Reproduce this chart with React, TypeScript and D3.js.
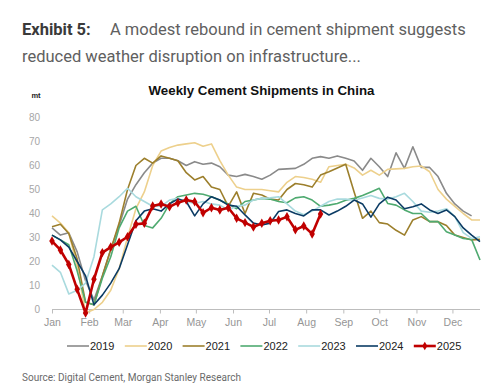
import { useEffect, useRef } from "react"
import * as d3 from "d3"

// weekly shipments, mt (week 0 = first week of Jan)
const s2019 = [34, 31, 32, 24, 12, 4, 14, 25, 35, 46, 52, 57, 61, 63, 63, 62, 60, 61.6, 60.5, 61, 59.5, 56, 55.4, 56.3, 55.4, 54.3, 56, 58.4, 58.6, 58.8, 60.5, 63, 63.7, 63, 64, 63, 61.9, 58, 63, 59.5, 55.4, 65.3, 58.8, 67.8, 59.2, 59.2, 55.4, 48.4, 44, 41, 39]
const s2020 = [39, 36, 32, 18, -1.5, 0, 3, 8, 17, 30, 42, 49, 60, 66, 67.5, 68.5, 69, 69.5, 68, 69, 62, 56, 51, 50, 50, 50, 49.5, 49, 53, 55.4, 55, 54.3, 53, 59.5, 60, 60.5, 59, 56, 58, 56, 58.4, 58.6, 58.8, 59.5, 59.8, 57.4, 50, 46, 43, 40, 37.3, 37.3]
const s2021 = [34.5, 35.5, 31.7, 21, 3, 2, 14, 25, 36, 50, 60, 63, 61, 64, 63, 62, 57, 54, 55.4, 51, 50, 43, 49, 40, 48.4, 47.7, 46, 45.6, 50, 52.5, 52, 51, 56, 57.4, 59, 60.5, 49, 38, 41, 36.2, 35.6, 33, 31, 37.3, 38.7, 36.6, 36.6, 35, 31, 30, 29, 29.2]
const s2022 = [31, 29, 27, 16, 3, 2, 13, 22, 34, 41, 43, 35, 34, 38, 44, 47, 47.7, 48.4, 48, 47, 45.5, 44, 42, 45, 45.6, 46.3, 46, 45, 44.5, 46.5, 47, 45.6, 43, 43.5, 44.2, 45.5, 46.3, 47.5, 49, 50.5, 44.2, 43.5, 41.5, 40, 40, 36.6, 36.6, 32.4, 31, 29.6, 29.2, 20.6]
const s2023 = [18.5, 15.5, 6.5, 8, 11, 22, 41.5, 44, 47, 50.5, 47, 45, 43, 43, 45.6, 46.3, 45, 44.2, 45, 44, 43.5, 41.5, 43, 43.5, 45.6, 46.3, 46.5, 47, 44, 41, 39.5, 41, 43, 45, 46, 46, 45.5, 46.5, 47.5, 46.3, 46, 47, 48.4, 45, 41, 40.5, 41, 42, 38.7, 32, 29.6, 30.3]
const s2024 = [31, 29, 26, 20, 14, 2, 6, 11, 17, 27, 37, 41, 42, 41, 44, 46, 45, 39, 44, 47, 45.6, 43.5, 43, 39.4, 36, 35.2, 36, 40.8, 41.5, 40, 39, 41.5, 41.5, 39.4, 41, 43, 45.6, 44, 38.5, 44, 46.8, 45.6, 42, 42.8, 44, 41.5, 40, 41.5, 38.7, 34, 31, 28.3]
const s2025 = [28.5, 24.8, 18.8, 8.4, -1.5, 12.6, 23.7, 26, 28, 30.3, 35.5, 35.9, 43.1, 44, 42.8, 44.5, 45.6, 44.9, 40.3, 42.4, 41.5, 42.4, 38, 36.2, 34.4, 35.9, 37, 37.3, 38.6, 33.2, 34.8, 31.5, 39.8]

const years = ["2019", "2020", "2021", "2022", "2023", "2024", "2025"]
const colors = ["#8a8a8a", "#edd08c", "#9c7f2c", "#4faa70", "#a9dade", "#0b3b64", "#c00000"]
const seriesList = [s2019, s2020, s2021, s2022, s2023, s2024, s2025]

const monthLabels = ["Jan", "Feb", "Mar", "Apr", "May", "Jun", "Jul", "Aug", "Sep", "Oct", "Nov", "Dec"]
const monthStartDay = [0, 31, 59, 90, 120, 151, 181, 212, 243, 273, 304, 334]
const yTicks = [0, 10, 20, 30, 40, 50, 60, 70, 80]

export default function App() {
  const svgRef = useRef(null)

  useEffect(() => {
    document.body.style.margin = "0"
    if (!svgRef.current) return
    const svg = d3.select(svgRef.current)
    svg.selectAll("*").remove()

    const width = 502
    const height = 387

    const x = d3.scaleLinear().domain([0, 51]).range([52, 480])
    const y = d3.scaleLinear().domain([0, 80]).range([309.5, 117.5])

    // header
    const head = svg.append("text").attr("x", 22).attr("y", 35).attr("font-family", "Roboto, sans-serif").attr("font-size", "16.5px")
    head.append("tspan").attr("font-weight", "bold").attr("fill", "#3a3a3a").text("Exhibit 5:")
    head.append("tspan").attr("x", 110).attr("fill", "#606060").text("A modest rebound in cement shipment suggests")
    svg.append("text").attr("x", 22).attr("y", 62).attr("font-family", "Roboto, sans-serif").attr("font-size", "16.5px")
      .attr("fill", "#606060").text("reduced weather disruption on infrastructure...")

    svg.append("text")
      .attr("x", 261.5).attr("y", 95).attr("text-anchor", "middle")
      .attr("font-family", "'Liberation Sans', Arial, sans-serif").attr("font-size", "13.3px").attr("font-weight", "bold")
      .attr("fill", "#111").text("Weekly Cement Shipments in China")

    svg.append("text").attr("x", 36).attr("y", 98).attr("text-anchor", "middle")
      .attr("font-family", "'Liberation Sans', Arial, sans-serif").attr("font-size", "7.5px").attr("font-weight", "bold")
      .attr("fill", "#222").text("mt")

    // y labels
    svg.append("g").selectAll("text").data(yTicks).enter().append("text")
      .attr("x", 40).attr("y", (d) => y(d) + 3.5).attr("text-anchor", "end")
      .attr("font-family", "'Liberation Sans', Arial, sans-serif").attr("font-size", "10px")
      .attr("fill", "#a6a6a6").text((d) => d)

    // x axis
    const xAxis = svg.append("g").attr("transform", `translate(0,${y(0)})`)
      .call(d3.axisBottom(x).tickValues(monthStartDay.map((d) => d / 7)).tickSize(4).tickSizeOuter(0)
        .tickFormat((d, i) => monthLabels[i]))
    xAxis.select(".domain").attr("stroke", "#bdbdbd").attr("d", `M${x(0)},0H${x(51)}`)
    xAxis.selectAll(".tick line").attr("stroke", "#bdbdbd")
    xAxis.selectAll(".tick text").attr("font-family", "'Liberation Sans', Arial, sans-serif").attr("font-size", "10.5px")
      .attr("fill", "#959595").attr("dy", "0.9em")

    const line = d3.line<number>().x((d, i) => x(i)).y((d) => y(d))

    seriesList.forEach((s, k) => {
      svg.append("path").datum(s)
        .attr("fill", "none").attr("stroke", colors[k])
        .attr("stroke-width", k === 6 ? 2.6 : 1.6)
        .attr("stroke-linejoin", "round")
        .attr("d", line)
    })

    svg.append("g").selectAll("path").data(s2025).enter().append("path")
      .attr("transform", (d, i) => `translate(${x(i)},${y(d)})`)
      .attr("d", d3.symbol(d3.symbolDiamond, 26))
      .attr("fill", colors[6])

    // legend
    const lg = svg.append("g")
    years.forEach((yr, k) => {
      const lx = 67 + k * 57.8
      lg.append("line").attr("x1", lx).attr("x2", lx + 22).attr("y1", 346).attr("y2", 346)
        .attr("stroke", colors[k]).attr("stroke-width", k === 6 ? 2.6 : 1.6)
      if (k === 6) {
        lg.append("path").attr("transform", `translate(${lx + 11},346)`)
          .attr("d", d3.symbol(d3.symbolDiamond, 22)).attr("fill", colors[6])
      }
      lg.append("text").attr("x", lx + 23).attr("y", 350)
        .attr("font-family", "'Liberation Sans', Arial, sans-serif").attr("font-size", "11px")
        .attr("fill", "#222").text(yr)
    })

    svg.append("text").attr("x", 22).attr("y", 381)
      .attr("font-family", "Roboto, sans-serif").attr("font-size", "10px")
      .attr("fill", "#6a6a6a").text("Source: Digital Cement, Morgan Stanley Research")

    svg.attr("width", width).attr("height", height).attr("viewBox", [0, 0, width, height])
  }, [])

  return (
    <div style={{ width: 502, height: 387, background: "#fff" }}>
      <svg ref={svgRef} style={{ display: "block" }}></svg>
    </div>
  )
}
